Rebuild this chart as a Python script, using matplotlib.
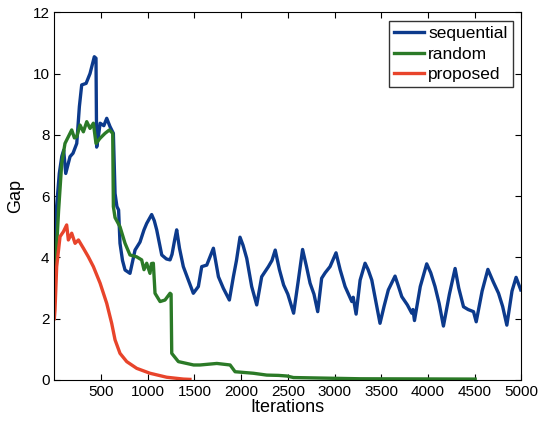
import numpy as np
import matplotlib
matplotlib.use('Agg')
import matplotlib.pyplot as plt

plt.rcParams['font.family'] = ['Liberation Sans', 'DejaVu Sans']

# sequential (blue)
seq_x = [0, 20, 53, 80, 100, 122, 168, 200, 240, 268, 293, 340, 382, 428, 446, 453, 470, 490, 530, 561,
         596, 632, 650, 670, 688, 703, 730, 757, 810, 840, 864, 917, 960, 989, 1042, 1070, 1096, 1150, 1200, 1239,
         1260, 1290, 1310, 1340, 1381, 1430, 1488, 1542, 1578, 1632, 1703, 1757, 1810, 1874, 1917, 1950, 1988, 2020,
         2060, 2113, 2167, 2220, 2292, 2330, 2365, 2410, 2455, 2500, 2562, 2610, 2658, 2700, 2738, 2780, 2820, 2862,
         2900, 2952, 3016, 3060, 3113, 3185, 3200, 3231, 3274, 3327, 3360, 3399, 3440, 3487, 3530, 3576, 3648, 3680,
         3720, 3780, 3827, 3840, 3856, 3918, 3987, 4030, 4076, 4120, 4166, 4230, 4291, 4330, 4381, 4430, 4488, 4517,
         4580, 4642, 4700, 4756, 4800, 4845, 4900, 4944, 4994]
seq_y = [3.7, 5.5, 6.74, 7.3, 7.5, 6.74, 7.29, 7.4, 7.72, 8.92, 9.63, 9.68, 10.0, 10.55, 10.5, 7.6, 7.9, 8.38, 8.3, 8.54,
         8.27, 8.05, 6.09, 5.66, 5.55, 4.46, 3.9, 3.59, 3.48, 3.9, 4.24, 4.5, 4.9, 5.11, 5.4, 5.2, 4.9, 4.08, 3.95, 3.92,
         4.1, 4.6, 4.9, 4.3, 3.7, 3.3, 2.83, 3.05, 3.7, 3.75, 4.3, 3.37, 2.99, 2.61, 3.37, 3.9, 4.66, 4.4,
         3.97, 3.05, 2.45, 3.37, 3.7, 3.9, 4.24, 3.6, 3.1, 2.8, 2.18, 3.2, 4.26, 3.7, 3.16, 2.8, 2.23, 3.32,
         3.5, 3.7, 4.15, 3.6, 3.05, 2.56, 2.7, 2.15, 3.26, 3.81, 3.6, 3.26, 2.6, 1.85, 2.4, 2.94, 3.39, 3.1,
         2.72, 2.45, 2.18, 2.3, 1.94, 3.05, 3.79, 3.5, 3.05, 2.5, 1.76, 2.8, 3.64, 3.0, 2.39, 2.3, 2.23, 1.9,
         2.9, 3.61, 3.2, 2.83, 2.4, 1.79, 2.9, 3.35, 2.94]

# random (green)
rnd_x = [0, 7, 46, 79, 114, 150, 186, 215, 240, 275, 311, 347, 382, 418, 446, 490, 543, 589, 625, 632,
         650, 703, 757, 810, 881, 935, 960, 989, 1024, 1040, 1060, 1078, 1132, 1185, 1239, 1250, 1257, 1328, 1491, 1560,
         1740, 1882, 1935, 2131, 2274, 2400, 2490, 2560, 3274, 4506]
rnd_y = [2.7, 3.37, 5.55, 7.07, 7.72, 7.94, 8.16, 7.9, 7.94, 8.32, 8.1, 8.43, 8.21, 8.38, 7.72, 7.89, 8.05, 8.16, 8.05, 5.66,
         5.3, 5.0, 4.46, 4.08, 4.02, 3.92, 3.6, 3.81, 3.48, 3.8, 3.81, 2.83, 2.56, 2.61, 2.83, 2.8, 0.87, 0.6, 0.49, 0.49,
         0.54, 0.49, 0.27, 0.22, 0.16, 0.15, 0.13, 0.08, 0.04, 0.03]

# proposed (red)
prop_x = [0, 7, 25, 61, 97, 132, 150, 186, 222, 258, 311, 364, 418, 490, 561, 614, 650, 703, 775, 882,
          1024, 1203, 1381, 1452]
prop_y = [2.0, 2.28, 3.7, 4.68, 4.84, 5.06, 4.57, 4.79, 4.46, 4.57, 4.3, 4.02, 3.7, 3.16, 2.5, 1.85, 1.31, 0.87, 0.6, 0.38,
          0.22, 0.09, 0.03, 0.02]

fig = plt.figure(figsize=(5.38, 4.21), dpi=100)
ax = fig.add_axes([0.101, 0.0974, 0.868, 0.8734])

ax.plot(seq_x, seq_y, color='#0c3a8c', lw=2.4, label='sequential')
ax.plot(rnd_x, rnd_y, color='#2b7a27', lw=2.4, label='random')
ax.plot(prop_x, prop_y, color='#e8442b', lw=2.4, label='proposed')

ax.set_xlim(0, 5000)
ax.set_ylim(0, 12)
ax.set_xticks(np.arange(500, 5001, 500))
ax.set_yticks(np.arange(0, 13, 2))
ax.tick_params(direction='in', top=True, right=True, labelsize=11, length=4)
ax.set_xlabel('Iterations', fontsize=13, labelpad=0)
ax.set_ylabel('Gap', fontsize=13, labelpad=6)

leg = ax.legend(loc='upper right', fontsize=12.5, frameon=True, fancybox=False,
                handlelength=1.7, handletextpad=0.25, borderpad=0.3, labelspacing=0.3,
                borderaxespad=0.5)
leg.get_frame().set_edgecolor('black')
leg.get_frame().set_linewidth(1.0)

plt.savefig('out.png', dpi=100)
